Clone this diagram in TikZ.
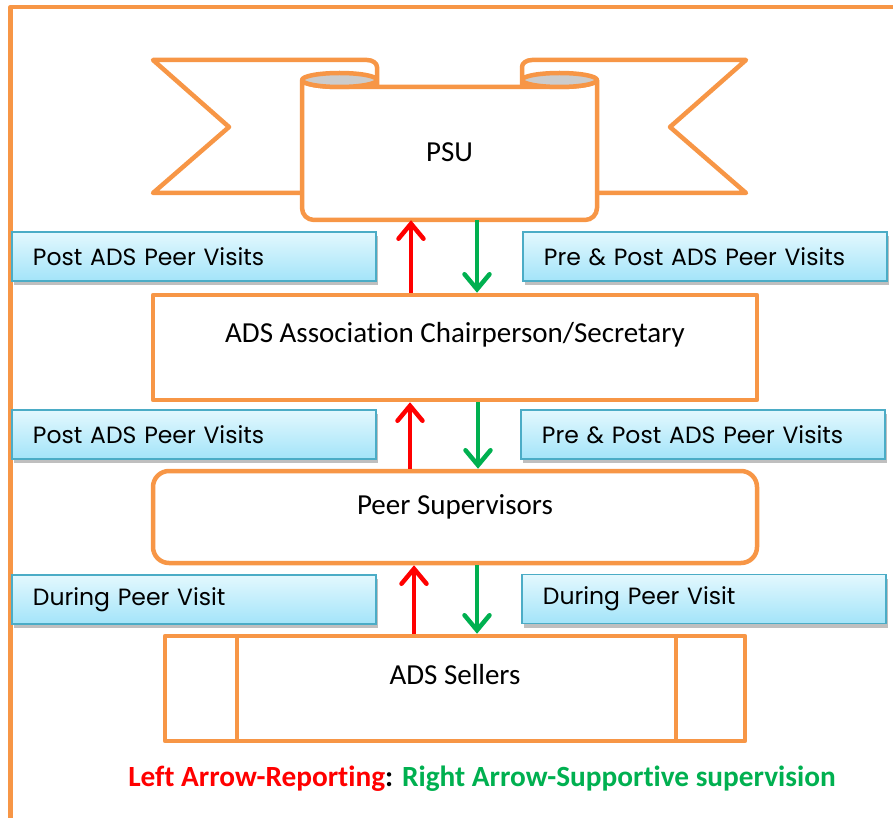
\documentclass[tikz,border=0pt]{standalone}
\usepackage{fontspec}
\setmainfont{Carlito}[Ligatures=NoCommon]
\newfontfamily\gothic{Poppins}
\usetikzlibrary{arrows.meta,shadows}

\definecolor{frameorange}{HTML}{F79646}
\definecolor{tagborder}{HTML}{4BACC6}
\definecolor{tagtop}{HTML}{E3F8FE}
\definecolor{tagbottom}{HTML}{A3E4F9}
\definecolor{scrollgray}{HTML}{CCCCCC}
\definecolor{reportred}{HTML}{FF0000}
\definecolor{supportgreen}{HTML}{00B050}

\tikzset{
  outline/.style={draw=frameorange, line width=4.5pt, line join=round},
  levelbox/.style={outline, fill=white, inner sep=0pt},
  boxtext/.style={inner sep=0pt, font=\fontsize{29}{33}\selectfont},
  tagbox/.style={draw=tagborder, line width=1.8pt, top color=tagtop, bottom color=tagbottom,
    minimum width=364pt, minimum height=49pt, text width=322pt, inner xsep=21pt, inner ysep=0pt,
    align=left, anchor=west, font=\gothic\fontsize{23.5}{26}\selectfont,
    general shadow={fill=black!25, shadow xshift=2pt, shadow yshift=-4pt}},
  uparrow/.style={draw=reportred, line width=4.5pt, -{Straight Barb[length=15pt,width=25pt,line cap=round]}},
  downarrow/.style={draw=supportgreen, line width=4.5pt, -{Straight Barb[length=15pt,width=25pt,line cap=round]}},
}

\begin{document}
\begin{tikzpicture}[x=1pt, y=-1pt]
\path[use as bounding box] (0,0) rectangle (893,818);
\clip (0,0) rectangle (893,818);

% outer frame (only top and left edges are on the page)
\draw[outline] (10.5,830) -- (10.5,7) -- (905,7);

% ---- scroll banner ----
% left tail with its curl
\draw[outline, fill=white] (302,193) -- (153,193) -- (229,127) -- (153,60) -- (367,60)
  arc[start angle=90, end angle=0, x radius=10pt, y radius=7pt] -- (377,87);
% right tail with its curl
\draw[outline, fill=white] (597,193) -- (746,193) -- (670,127) -- (746,60) -- (532,60)
  arc[start angle=90, end angle=180, x radius=10pt, y radius=7pt] -- (522,87);
% front band
\draw[outline, fill=white] (302,80)
  arc[start angle=180, end angle=270, x radius=37.5pt, y radius=7pt] -- (559.5,87)
  arc[start angle=270, end angle=360, x radius=37.5pt, y radius=7pt] -- (597,208)
  arc[start angle=0, end angle=-90, radius=12pt] -- (314,220)
  arc[start angle=270, end angle=180, radius=12pt] -- cycle;
% rolled-up ends of the band
\draw[outline, fill=scrollgray] (339.5,80) ellipse [x radius=37.5pt, y radius=7pt];
\draw[outline, fill=scrollgray] (559.5,80) ellipse [x radius=37.5pt, y radius=7pt];
\node[boxtext, minimum width=295pt, minimum height=140pt] (psu) at (449.5,150) {};
\node[boxtext] (psutext) at (449.5,152) {PSU};

% ---- levels ----
\node[levelbox, minimum width=604pt, minimum height=105pt] (assoc) at (455,347.5) {};
\node[boxtext] (assoctext) at (455,335) {ADS Association Chairperson/Secretary};

\node[levelbox, rounded corners=16pt, minimum width=604pt, minimum height=92pt] (peer) at (455,517) {};
\node[boxtext] (peertext) at (455,507) {Peer Supervisors};

\node[levelbox, minimum width=580pt, minimum height=105pt] (sellers) at (455,688.5) {};
\draw[outline] (sellers.north -| 237,0) -- (sellers.south -| 237,0);
\draw[outline] (sellers.north -| 676,0) -- (sellers.south -| 676,0);
\node[boxtext] (sellerstext) at (455,675) {ADS Sellers};

% ---- visit tags ----
\node[tagbox] (tagL1) at (11,256.5) {Post ADS Peer Visits};
\node[tagbox] (tagR1) at (522,256.5) {Pre \& Post ADS Peer Visits};
\node[tagbox] (tagL2) at (11,434.5) {Post ADS Peer Visits};
\node[tagbox] (tagR2) at (520,434.5) {Pre \& Post ADS Peer Visits};
\node[tagbox] (tagL3) at (11,599.5) {During Peer Visit};
\node[tagbox] (tagR3) at (521,599) {During Peer Visit};

% ---- reporting / supervision arrows ----
\coordinate (xr1) at (411,0);
\coordinate (xg1) at (477,0);
\coordinate (xr2) at (410,0);
\coordinate (xg2) at (478,0);
\coordinate (xr3) at (414,0);
\coordinate (xg3) at (477,0);
\draw[uparrow]   (assoc.north -| xr1) -- (psu.south -| xr1);
\draw[downarrow] (psu.south -| xg1) -- (assoc.north -| xg1);
\draw[uparrow]   (peer.north -| xr2) -- (assoc.south -| xr2);
\draw[downarrow] (assoc.south -| xg2) -- (peer.north -| xg2);
\draw[uparrow]   (sellers.north -| xr3) -- (peer.south -| xr3);
\draw[downarrow] (peer.south -| xg3) -- (sellers.north -| xg3);

% ---- legend ----
\node[boxtext, font=\bfseries\fontsize{29.3}{33}\selectfont] (legend) at (482,779)
  {\textcolor{reportred}{Left Arrow-Reporting}: \textcolor{supportgreen}{Right Arrow-Supportive supervision}};
\end{tikzpicture}
\end{document}
